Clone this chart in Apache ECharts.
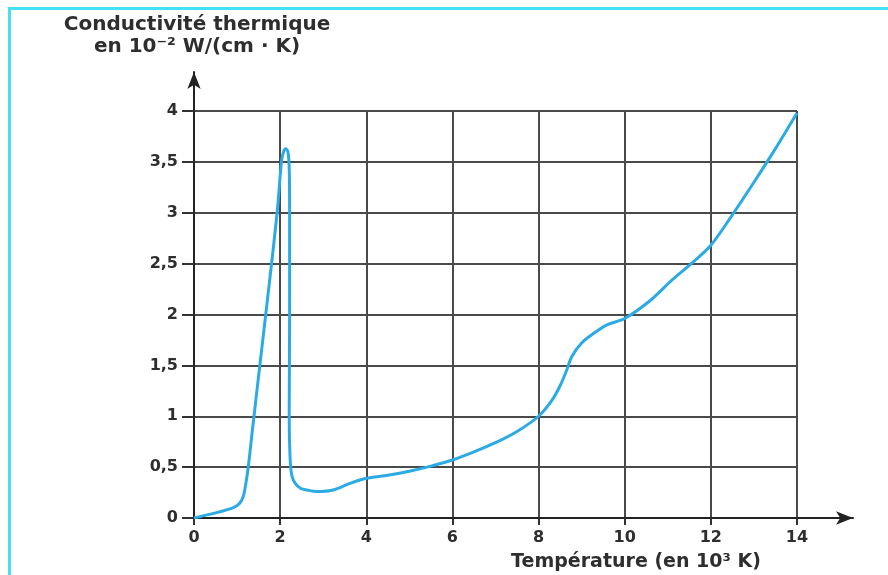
<!DOCTYPE html>
<html>
<head>
<meta charset="utf-8">
<script src="https://cdn.jsdelivr.net/npm/echarts@6/dist/echarts.min.js"></script>
<style>
html,body{margin:0;padding:0;background:#fff;}
#chart{width:888px;height:575px;}
</style>
</head>
<body>
<div id="chart"></div>
<script>
// Temperature (10^3 K)
const temperature = [0, 0.5, 0.9, 1.05, 1.15, 1.25, 1.355, 1.49, 1.72, 1.93, 2.03, 2.08, 2.13, 2.18, 2.21, 2.22, 2.22, 2.21, 2.23, 2.27, 2.35, 2.48, 2.62, 2.85, 3.23, 3.62, 4.0, 4.5, 5.0, 5.5, 6.0, 6.5, 7.0, 7.5, 8.0, 8.3, 8.5, 8.65, 8.77, 9.0, 9.3, 9.6, 10.0, 10.6, 11.1, 11.6, 12.0, 12.5, 13.0, 13.5, 14.0];
// Thermal conductivity (10^-2 W/(cm.K))
const conductivity = [0, 0.05, 0.10, 0.14, 0.22, 0.47, 0.86, 1.36, 2.2, 3.0, 3.5, 3.6, 3.63, 3.6, 3.45, 3.0, 2.0, 1.0, 0.6, 0.42, 0.34, 0.29, 0.275, 0.26, 0.275, 0.34, 0.39, 0.42, 0.46, 0.51, 0.57, 0.65, 0.74, 0.85, 1.0, 1.15, 1.3, 1.45, 1.585, 1.72, 1.82, 1.9, 1.96, 2.14, 2.34, 2.52, 2.68, 2.98, 3.3, 3.63, 3.98];
const yTitleLine1 = 'Conductivité thermique';
const yTitleLine2 = 'en 10⁻² W/(cm · K)';
const xTitle = 'Température (en 10³ K)';

const seriesData = temperature.map((t, i) => [t, conductivity[i]]);
const font = '"DejaVu Sans", sans-serif';
const ink = '#2e2e2e';

const chart = echarts.init(document.getElementById('chart'), null, {renderer: 'canvas'});
chart.setOption({
  animation: false,
  backgroundColor: '#ffffff',
  grid: [
    {left: 194, right: 91, top: 111, bottom: 57, containLabel: false},
    {left: 194, right: 35, top: 72, bottom: 57, containLabel: false}
  ],
  xAxis: [
    {
      type: 'value', gridIndex: 0, min: 0, max: 14, interval: 2,
      axisLine: {show: true, lineStyle: {color: '#333', width: 2}},
      axisTick: {show: true, length: 7, lineStyle: {color: '#333', width: 2}},
      axisLabel: {color: ink, fontFamily: font, fontWeight: 'bold', fontSize: 16, margin: 12},
      splitLine: {show: true, lineStyle: {color: '#4a4a4a', width: 2}}
    },
    {
      type: 'value', gridIndex: 1, min: 0, max: 1,
      axisLine: {show: true, symbol: ['none', 'arrow'], symbolSize: [10, 17], lineStyle: {color: '#222', width: 2}},
      axisTick: {show: false}, axisLabel: {show: false}, splitLine: {show: false}
    }
  ],
  yAxis: [
    {
      type: 'value', gridIndex: 0, min: 0, max: 4, interval: 0.5,
      axisLine: {show: true, lineStyle: {color: '#333', width: 2}},
      axisTick: {show: true, length: 12, lineStyle: {color: '#333', width: 2}},
      axisLabel: {color: ink, fontFamily: font, fontWeight: 'bold', fontSize: 16, margin: 16,
        formatter: v => String(v).replace('.', ',')},
      splitLine: {show: true, lineStyle: {color: '#4a4a4a', width: 2}}
    },
    {
      type: 'value', gridIndex: 1, min: 0, max: 1,
      axisLine: {show: true, symbol: ['none', 'arrow'], symbolSize: [10, 17], lineStyle: {color: '#222', width: 2}},
      axisTick: {show: false}, axisLabel: {show: false}, splitLine: {show: false}
    }
  ],
  series: [{
    type: 'line',
    xAxisIndex: 0, yAxisIndex: 0,
    data: seriesData,
    showSymbol: false,
    smooth: 0.3,
    lineStyle: {color: '#2aabe6', width: 3},
    z: 5
  }],
  graphic: [
    {type: 'rect', shape: {x: 9.5, y: 8.5, width: 900, height: 600}, style: {fill: 'none', stroke: '#45e0f5', lineWidth: 3}, silent: true},
    {type: 'text', x: 197, y: 25, style: {text: yTitleLine1, fill: ink, font: 'bold 20px ' + font, textAlign: 'center', textVerticalAlign: 'middle'}},
    {type: 'text', x: 197, y: 47, style: {text: yTitleLine2, fill: ink, font: 'bold 20px ' + font, textAlign: 'center', textVerticalAlign: 'middle'}},
    {type: 'text', x: 636, y: 562, style: {text: xTitle, fill: ink, font: 'bold 19px ' + font, textAlign: 'center', textVerticalAlign: 'middle'}}
  ]
});
</script>
</body>
</html>
